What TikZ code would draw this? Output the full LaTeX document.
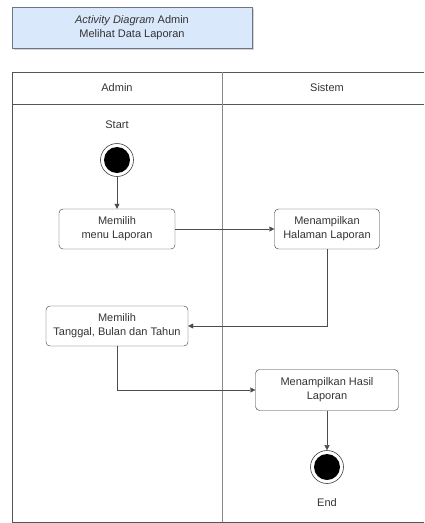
\documentclass[tikz,border=0pt]{standalone}
\usepackage{fontspec}
\setmainfont{Liberation Sans}
\usepackage{xcolor}
\definecolor{dae8fc}{HTML}{DAE8FC}
\definecolor{lanegray}{HTML}{555555}
\definecolor{boxgray}{HTML}{6B7584}
\definecolor{textgray}{HTML}{333333}
\usetikzlibrary{shadows}
\usetikzlibrary{arrows.meta}

\tikzset{
    lbl/.style={text=textgray, font=\fontsize{11}{14}\selectfont},
    activity/.style={draw=black!80, rounded corners=4pt, align=center, inner sep=0pt, lbl},
    flow/.style={draw=black!70, -{Triangle[length=5pt,width=5pt]}},
    startdot/.style={circle, draw=black!75, line width=0.6pt, minimum size=33pt, inner sep=0pt,
        path picture={\fill[black] (path picture bounding box.center) circle (13pt);}}
}

\begin{document}
\begin{tikzpicture}[x=1pt, y=-1pt]
            \useasboundingbox (0, 0) rectangle (424, 523);

            % judul
            \node[draw=boxgray, fill=dae8fc, minimum width=240pt, minimum height=41pt, align=center, lbl,
                drop shadow={opacity=0.35, shadow xshift=1.5pt, shadow yshift=-1.5pt}]
                (judul) at (132, 28) {\textit{Activity Diagram} Admin\\Melihat Data Laporan};

            % swimlane
            \draw[lanegray, line width=0.8pt] (12, 522) -- (12, 72) -- (424, 72);
            \draw[lanegray, line width=0.8pt] (12, 104) -- (424, 104);
            \draw[lanegray, line width=0.8pt] (12, 522) -- (424, 522);
            \draw[lanegray!70, line width=0.8pt] (222, 72) -- (222, 522);
            \node[lbl] (admin) at (117, 88) {Admin};
            \node[lbl] (sistem) at (327, 88) {Sistem};

            \node[lbl] (startlbl) at (117, 125) {Start};
            \node[startdot] (start) at (117, 160) {};

            \node[activity, minimum width=116pt, minimum height=40pt] (pilihmenu) at (117, 229) {Memilih\\menu Laporan};
            \node[activity, minimum width=105pt, minimum height=40pt] (halaman) at (327, 229) {Menampilkan\\Halaman Laporan};
            \node[activity, minimum width=142pt, minimum height=40pt] (pilihtgl) at (117, 326) {Memilih\\Tanggal, Bulan dan Tahun};
            \node[activity, minimum width=143pt, minimum height=41pt] (hasil) at (327, 390) {Menampilkan Hasil\\Laporan};

            \node[startdot] (end) at (327, 467) {};
            \node[lbl] (endlbl) at (327, 503) {End};

            \draw[flow] (start) -- (pilihmenu);
            \draw[flow] (pilihmenu) -- (halaman);
            \draw[flow] (halaman.south) |- (pilihtgl.east);
            \draw[flow] (pilihtgl.south) |- (hasil.west);
            \draw[flow] (hasil) -- (end);
        \end{tikzpicture}
\end{document}
